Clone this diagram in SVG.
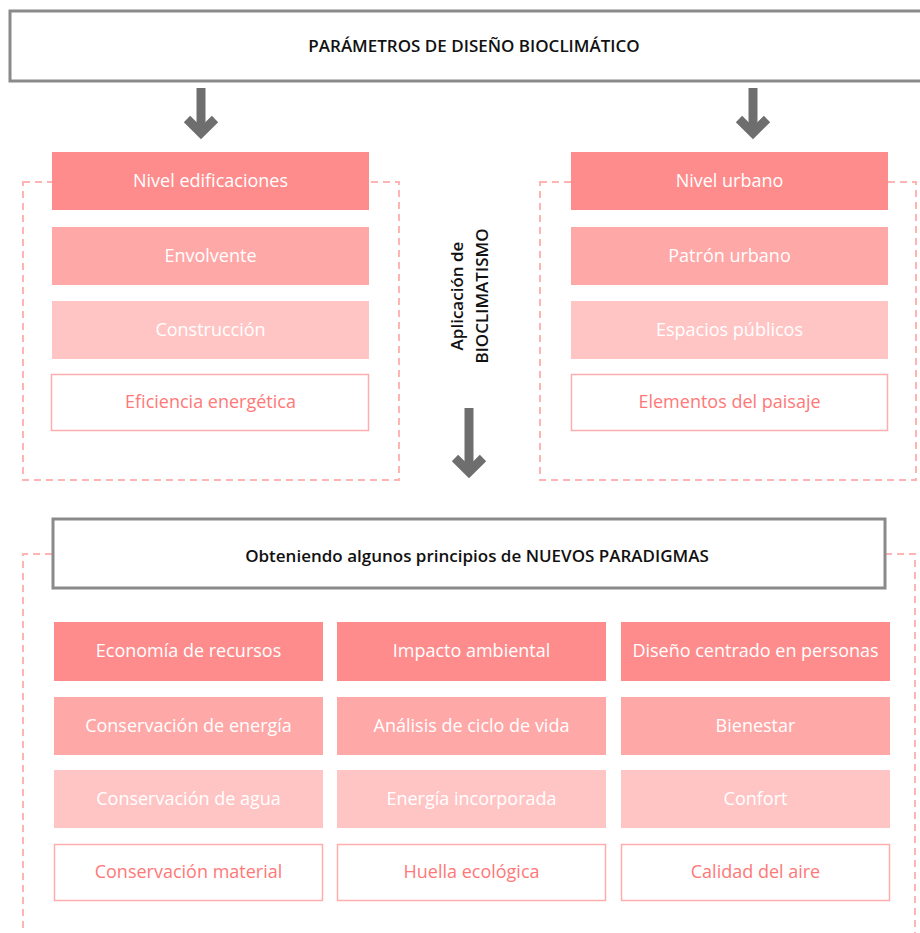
<svg xmlns="http://www.w3.org/2000/svg" width="920" height="933" viewBox="0 0 920 933">
<style>
text{font-family:"Open Sans","Noto Sans","DejaVu Sans",sans-serif;text-anchor:middle}
.lbl{font-size:18px;fill:#fff}
.out{font-size:18px;fill:#ff7878}
.hd{font-size:17px;font-weight:600;fill:#111}
.c1{fill:#ff8c8c}
.c2{fill:#ffa8a8}
.c3{fill:#ffc5c5}
.c4{fill:#fff;stroke:#ffaeae;stroke-width:1.5}
.gray{fill:#fff;stroke:#8a8a8a;stroke-width:3}
.dash{fill:none;stroke:#ffb4b4;stroke-width:2;stroke-dasharray:7 5}
.arr{fill:none;stroke:#6e6e6e;stroke-width:9}
</style>
<rect width="920" height="933" fill="#fff"/>
<g id="connectors">
<rect class="dash" x="23" y="182" width="376" height="298"/>
<rect class="dash" x="540" y="182" width="376" height="298"/>
<path class="dash" d="M52,554 H23 V933"/>
<path class="dash" d="M885,554 H915 V933"/>
<path class="arr" d="M201,88 V134"/>
<polyline class="arr" points="187,119 201,133 215,119"/>
<path class="arr" d="M753,88 V134"/>
<polyline class="arr" points="739,119 753,133 767,119"/>
<path class="arr" d="M469,408 V470"/>
<polyline class="arr" points="455,458 469,472 483,458"/>
</g>
<g id="title">
<rect class="gray" x="10" y="11" width="930" height="70"/>
<text class="hd" x="474" y="52">PARÁMETROS DE DISEÑO BIOCLIMÁTICO</text>
</g>
<g id="nivel-edificaciones">
<rect class="c1" x="52" y="152" width="317" height="58"/>
<text class="lbl" x="210.5" y="186.5">Nivel edificaciones</text>
</g>
<g id="envolvente">
<rect class="c2" x="52" y="227" width="317" height="58"/>
<text class="lbl" x="210.5" y="261.5">Envolvente</text>
</g>
<g id="construccion">
<rect class="c3" x="52" y="301" width="317" height="58"/>
<text class="lbl" x="210.5" y="335.5">Construcción</text>
</g>
<g id="eficiencia">
<rect class="c4" x="51.5" y="374.5" width="317" height="56"/>
<text class="out" x="210.5" y="408">Eficiencia energética</text>
</g>
<g id="nivel-urbano">
<rect class="c1" x="571" y="152" width="317" height="58"/>
<text class="lbl" x="729.5" y="186.5">Nivel urbano</text>
</g>
<g id="patron-urbano">
<rect class="c2" x="571" y="227" width="317" height="58"/>
<text class="lbl" x="729.5" y="261.5">Patrón urbano</text>
</g>
<g id="espacios-publicos">
<rect class="c3" x="571" y="301" width="317" height="58"/>
<text class="lbl" x="729.5" y="335.5">Espacios públicos</text>
</g>
<g id="elementos-paisaje">
<rect class="c4" x="571.5" y="374.5" width="316" height="56"/>
<text class="out" x="729.5" y="408">Elementos del paisaje</text>
</g>
<g id="aplicacion">
<text class="hd" transform="translate(0,296) rotate(-90)"><tspan x="0" y="463">Aplicación de</tspan><tspan x="0" y="488">BIOCLIMATISMO</tspan></text>
</g>
<g id="obteniendo">
<rect class="gray" x="53" y="519" width="832" height="69"/>
<text class="hd" x="477" y="562">Obteniendo algunos principios de NUEVOS PARADIGMAS</text>
</g>
<g id="economia">
<rect class="c1" x="54" y="622" width="269" height="59"/>
<text class="lbl" x="188.5" y="657">Economía de recursos</text>
</g>
<g id="impacto">
<rect class="c1" x="337" y="622" width="269" height="59"/>
<text class="lbl" x="471.5" y="657">Impacto ambiental</text>
</g>
<g id="diseno">
<rect class="c1" x="621" y="622" width="269" height="59"/>
<text class="lbl" x="755.5" y="657">Diseño centrado en personas</text>
</g>
<g id="cons-energia">
<rect class="c2" x="54" y="697" width="269" height="58"/>
<text class="lbl" x="188.5" y="731.5">Conservación de energía</text>
</g>
<g id="analisis">
<rect class="c2" x="337" y="697" width="269" height="58"/>
<text class="lbl" x="471.5" y="731.5">Análisis de ciclo de vida</text>
</g>
<g id="bienestar">
<rect class="c2" x="621" y="697" width="269" height="58"/>
<text class="lbl" x="755.5" y="731.5">Bienestar</text>
</g>
<g id="cons-agua">
<rect class="c3" x="54" y="770" width="269" height="58"/>
<text class="lbl" x="188.5" y="804.5">Conservación de agua</text>
</g>
<g id="energia-inc">
<rect class="c3" x="337" y="770" width="269" height="58"/>
<text class="lbl" x="471.5" y="804.5">Energía incorporada</text>
</g>
<g id="confort">
<rect class="c3" x="621" y="770" width="269" height="58"/>
<text class="lbl" x="755.5" y="804.5">Confort</text>
</g>
<g id="cons-material">
<rect class="c4" x="54.5" y="844.5" width="268" height="56"/>
<text class="out" x="188.5" y="878">Conservación material</text>
</g>
<g id="huella">
<rect class="c4" x="337.5" y="844.5" width="268" height="56"/>
<text class="out" x="471.5" y="878">Huella ecológica</text>
</g>
<g id="calidad">
<rect class="c4" x="621.5" y="844.5" width="268" height="56"/>
<text class="out" x="755.5" y="878">Calidad del aire</text>
</g>
</svg>
